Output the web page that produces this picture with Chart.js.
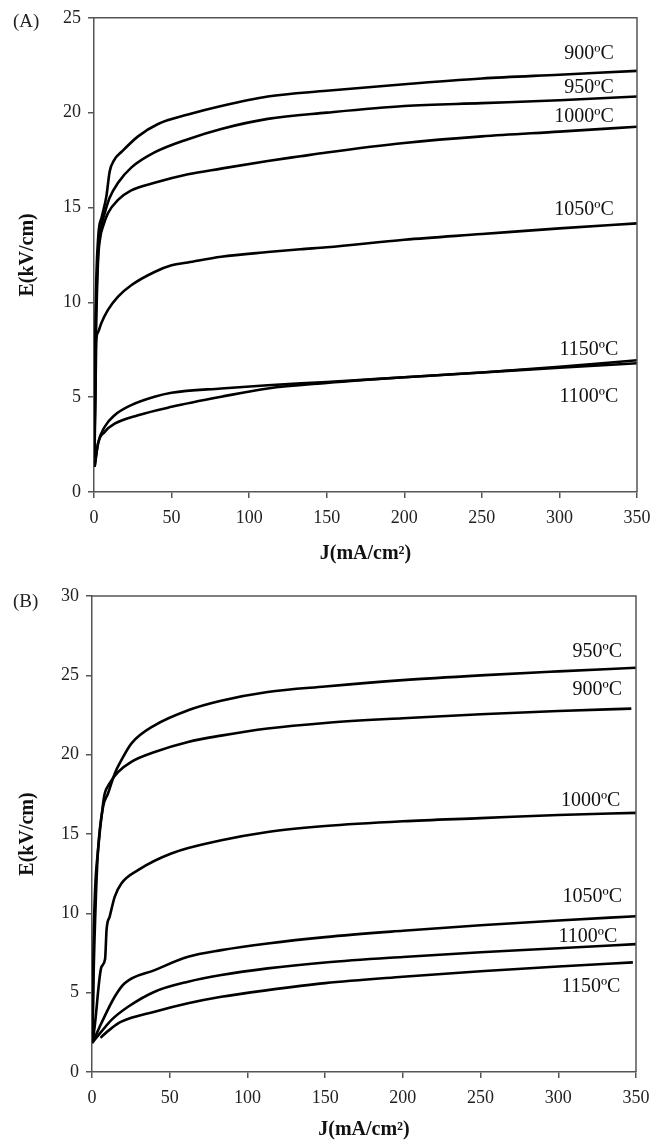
<!DOCTYPE html>
<html lang="en">
<head>
    <meta charset="UTF-8">
    <title>E vs J curves</title>
    <script src="https://cdn.jsdelivr.net/npm/chart.js"></script>
    <style>
        body { margin: 0; background: #fff; }
        .panel { position: absolute; left: 0; width: 670px; height: 570px; }
        .tag { position: absolute; left: 13px; font: 19px "Liberation Serif", serif; color: #222; }
    </style>
</head>
<body>
    <div class="panel" style="top:0"><canvas id="chartA" width="670" height="570"></canvas></div>
    <div class="panel" style="top:570px"><canvas id="chartB" width="670" height="570"></canvas></div>
    <div class="tag" style="top:10px">(A)</div>
    <div class="tag" style="top:590px">(B)</div>

    <script>
        // ---- panel (A) ----
        const tempsA = ['900ºC', '950ºC', '1000ºC', '1050ºC', '1150ºC', '1100ºC'];
        const jA900 = [0.3, 1, 2.6, 5, 8, 10.1, 13, 18, 28.4, 41.3, 60.6, 82, 112, 150, 200, 250, 300, 350];
        const eA900 = [2, 9, 13.3, 14.5, 15.6, 16.9, 17.5, 17.95, 18.75, 19.4, 19.9, 20.35, 20.85, 21.15, 21.5, 21.8, 22.0, 22.2];
        const jA950 = [0.3, 1, 2.6, 4.5, 6.9, 10, 15.5, 24, 39, 60.6, 82, 112, 150, 200, 250, 300, 350];
        const eA950 = [2, 8, 12.5, 13.9, 14.7, 15.5, 16.3, 17.1, 17.9, 18.6, 19.14, 19.67, 20.0, 20.35, 20.5, 20.65, 20.85];
        const jA1000 = [0.3, 1, 2.5, 4, 5.8, 9, 15.5, 24, 39, 60.6, 82, 112, 133, 150, 200, 250, 300, 350];
        const eA1000 = [2, 7, 12, 13.4, 14.0, 14.7, 15.4, 15.9, 16.3, 16.75, 17.05, 17.45, 17.7, 17.9, 18.4, 18.75, 19.0, 19.26];
        const jA1050 = [0.3, 1, 1.5, 2.5, 4.7, 9, 15.5, 24, 39, 50, 60.6, 82, 112, 133, 150, 200, 250, 300, 350];
        const eA1050 = [1.8, 5.5, 8.0, 8.4, 8.9, 9.6, 10.3, 10.9, 11.6, 11.95, 12.1, 12.4, 12.65, 12.8, 12.9, 13.3, 13.6, 13.9, 14.16];
        const jA1150 = [0.4, 2.6, 6.9, 13.3, 24, 39, 50, 82, 112, 150, 200, 250, 300, 350];
        const eA1150 = [1.33, 2.56, 3.44, 4.05, 4.58, 5.02, 5.23, 5.46, 5.63, 5.8, 6.05, 6.3, 6.6, 6.95];
        const jA1100 = [0.4, 2.6, 6.9, 13.3, 28.4, 50, 82, 112, 150, 200, 250, 300, 350];
        const eA1100 = [1.33, 2.56, 3.17, 3.6, 4.05, 4.49, 5.02, 5.46, 5.75, 6.05, 6.3, 6.55, 6.79];
        const labelJA = [335, 335, 335, 335, 338, 338];
        const labelEA = [23.1, 21.3, 19.8, 14.9, 7.5, 5.0];

        // ---- panel (B) ----
        const tempsB = ['950ºC', '900ºC', '1000ºC', '1050ºC', '1100ºC', '1150ºC'];
        const jB950 = [0.3, 1, 2.5, 3.9, 7.1, 10.3, 14.6, 18.9, 25.3, 40.3, 61.8, 83, 113, 150, 200, 250, 300, 350];
        const eB950 = [2, 6, 11, 14.0, 16.7, 17.55, 18.8, 19.65, 20.7, 21.85, 22.8, 23.4, 23.95, 24.3, 24.7, 25.0, 25.25, 25.48];
        const jB900 = [0.3, 1, 2, 3.9, 7.1, 8.2, 11.4, 16.7, 25.3, 40.3, 61.8, 83, 113, 150, 200, 250, 300, 347];
        const eB900 = [2, 8, 11.5, 14.0, 16.9, 17.55, 18.2, 18.9, 19.55, 20.17, 20.8, 21.2, 21.65, 22.0, 22.3, 22.55, 22.75, 22.9];
        const jB1000 = [0.3, 1.7, 6, 8.4, 9.4, 11.4, 14.6, 18.9, 29.6, 51, 83.2, 113, 150, 200, 250, 300, 350];
        const eB1000 = [1.8, 2.85, 6.6, 7.1, 9.0, 9.8, 11.04, 11.88, 12.72, 13.77, 14.6, 15.13, 15.5, 15.8, 16.0, 16.2, 16.33];
        const jB1050 = [0.6, 6, 14.6, 21, 40.3, 61.8, 83.2, 113, 150, 200, 250, 300, 350];
        const eB1050 = [1.9, 3.07, 4.74, 5.59, 6.42, 7.26, 7.68, 8.1, 8.5, 8.9, 9.25, 9.55, 9.82];
        const jB1100 = [0.6, 6, 12.4, 23.2, 40.3, 61.8, 83.2, 113, 150, 200, 250, 300, 350];
        const eB1100 = [1.9, 2.54, 3.27, 4.11, 5.06, 5.69, 6.11, 6.53, 6.9, 7.25, 7.55, 7.8, 8.06];
        const jB1150 = [5.5, 6.5, 12.4, 18.9, 40.3, 61.8, 83.2, 113, 150, 200, 250, 300, 348];
        const eB1150 = [2.15, 2.25, 2.75, 3.17, 3.8, 4.33, 4.74, 5.16, 5.6, 6.0, 6.35, 6.65, 6.91];
        const labelJB = [341, 341, 340, 341, 338, 340];
        const labelEB = [26.5, 24.07, 17.08, 11.03, 8.5, 5.36];

        const xTicks = [0, 50, 100, 150, 200, 250, 300, 350];

        const serif = '"Liberation Serif", "Times New Roman", serif';
        const axisColor = '#555';

        function toPoints(js, es) {
            return js.map((j, i) => ({ x: j, y: es[i] }));
        }

        function makeSet(js, es) {
            return {
                data: toPoints(js, es),
                borderColor: '#000',
                borderWidth: 2.6,
                pointRadius: 0,
                fill: false,
                cubicInterpolationMode: 'monotone'
            };
        }

        // box lines on top/right + temperature labels
        const extras = {
            id: 'extras',
            afterDraw(chart, args, opts) {
                const { ctx, chartArea, scales } = chart;
                ctx.save();
                ctx.strokeStyle = axisColor;
                ctx.lineWidth = 1.5;
                ctx.beginPath();
                ctx.moveTo(chartArea.left, chartArea.top);
                ctx.lineTo(chartArea.right, chartArea.top);
                ctx.lineTo(chartArea.right, chartArea.bottom);
                ctx.stroke();

                ctx.fillStyle = '#111';
                ctx.font = '20px ' + serif;
                ctx.textAlign = 'right';
                ctx.textBaseline = 'middle';
                opts.names.forEach((name, i) => {
                    const x = scales.x.getPixelForValue(opts.js[i]);
                    const y = scales.y.getPixelForValue(opts.es[i]);
                    ctx.fillText(name, x, y);
                });
                ctx.restore();
            }
        };

        function buildChart(id, sets, yMax, pad, yWidth, xHeight, titleBottom, labelInfo) {
            const ctx = document.getElementById(id).getContext('2d');
            return new Chart(ctx, {
                type: 'line',
                data: { datasets: sets },
                plugins: [extras],
                options: {
                    responsive: false,
                    animation: false,
                    layout: { padding: pad },
                    plugins: {
                        legend: { display: false },
                        tooltip: { enabled: false },
                        extras: labelInfo
                    },
                    scales: {
                        x: {
                            type: 'linear',
                            min: 0,
                            max: 350,
                            afterBuildTicks: (s) => { s.ticks = xTicks.map(v => ({ value: v })); },
                            afterFit: (s) => { s.height = xHeight; },
                            grid: { drawOnChartArea: false, color: axisColor, tickLength: 6, lineWidth: 1.5 },
                            border: { color: axisColor, width: 1.5 },
                            ticks: { color: '#222', font: { family: serif, size: 18 }, padding: 9, maxRotation: 0 },
                            title: {
                                display: true,
                                text: 'J(mA/cm²)',
                                color: '#111',
                                font: { family: serif, size: 20, weight: 'bold', lineHeight: 1 },
                                padding: { top: 0, bottom: titleBottom }
                            }
                        },
                        y: {
                            min: 0,
                            max: yMax,
                            ticks: { stepSize: 5, color: '#222', font: { family: serif, size: 18 }, padding: 7 },
                            afterFit: (s) => { s.width = yWidth; },
                            grid: { drawOnChartArea: false, color: axisColor, tickLength: 6, lineWidth: 1.5 },
                            border: { color: axisColor, width: 1.5 },
                            title: {
                                display: true,
                                text: 'E(kV/cm)',
                                color: '#111',
                                font: { family: serif, size: 20, weight: 'bold', lineHeight: 1 },
                                padding: { top: 18, bottom: 0 }
                            }
                        }
                    }
                }
            });
        }

        buildChart('chartA', [
            makeSet(jA900, eA900),
            makeSet(jA950, eA950),
            makeSet(jA1000, eA1000),
            makeSet(jA1050, eA1050),
            makeSet(jA1150, eA1150),
            makeSet(jA1100, eA1100)
        ], 25, { top: 17, right: 33, left: 0, bottom: 0 }, 94, 78, 6,
            { names: tempsA, js: labelJA, es: labelEA });

        buildChart('chartB', [
            makeSet(jB950, eB950),
            makeSet(jB900, eB900),
            makeSet(jB1000, eB1000),
            makeSet(jB1050, eB1050),
            makeSet(jB1100, eB1100),
            makeSet(jB1150, eB1150)
        ], 30, { top: 26, right: 34, left: 0, bottom: 0 }, 92, 68, 0,
            { names: tempsB, js: labelJB, es: labelEB });
    </script>
</body>
</html>
